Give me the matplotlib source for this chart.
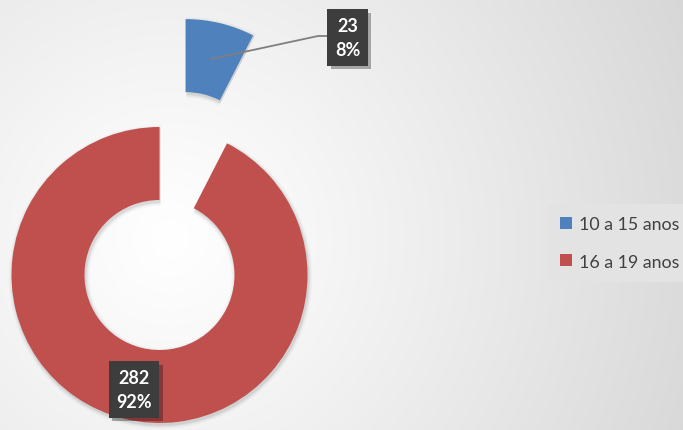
import numpy as np
import matplotlib
matplotlib.use('Agg')
import matplotlib.pyplot as plt
import matplotlib.patheffects as pe

# ---- data ----
categories = ['10 a 15 anos', '16 a 19 anos']
values = [23, 282]
colors = ['#4f81bd', '#c0504d']

W, H = 683, 431
fig = plt.figure(figsize=(W / 100, H / 100), dpi=100)
ax = fig.add_axes([0, 0, 1, 1])

# background radial gradient
yy, xx = np.mgrid[0:H, 0:W]
cx, cy = 170, 240
d = np.hypot(xx - cx, yy - cy)
g = 1.0 - 0.16 * np.clip(d / 580, 0, 1) ** 1.1
img = np.dstack([g, g, g])
ax.imshow(img, extent=(0, W, 0, H), origin='upper', zorder=0, aspect='auto')

total = sum(values)
center = (159.5, H - 276)
R = 148

# soft shadow
for k, a in zip([10, 7, 4, 2], [0.02, 0.03, 0.04, 0.05]):
    sw, _ = ax.pie(values, colors=['black', 'black'], startangle=90, counterclock=False,
                   radius=R + k * 0.4, center=(center[0] + 1, center[1] - 2), explode=[111, 0],
                   wedgeprops=dict(width=73 + k * 0.8, edgecolor='none', alpha=a))

wedges, _ = ax.pie(values, colors=colors, startangle=90, counterclock=False,
                   radius=R, center=center, explode=[111, 0],
                   wedgeprops=dict(width=73, edgecolor='none'))

ax.set_xlim(0, W)
ax.set_ylim(0, H)
ax.set_aspect('auto')
ax.axis('off')

# data labels
lbl_pos = [(347.5, H - 38.5), (134, H - 390.5)]
for v, (x, y) in zip(values, lbl_pos):
    s = f"{v}\n{v / total * 100:.0f}%"
    t = ax.text(x, y, s, ha='center', va='center', fontsize=13, fontweight='bold',
                family=['Lato', 'DejaVu Sans'], color='white', linespacing=1.55, zorder=5,
                bbox=dict(boxstyle='square,pad=0.42', fc='#3d3d3d', ec='none'))
    t.get_bbox_patch().set_path_effects([
        pe.SimplePatchShadow(offset=(2.5, -2.5), shadow_rgbFace='black', alpha=0.3),
        pe.Normal()])

# leader line
ax.plot([211, 318, 327], [H - 60, H - 37, H - 37], color='#7f7f7f', lw=1.3, zorder=3)

# legend
leg = ax.legend(wedges, categories, loc='center left',
                bbox_to_anchor=(548 / W, 1 - 244 / H), bbox_transform=ax.transAxes,
                frameon=True, fancybox=False, facecolor='#e3e3e3', edgecolor='none',
                framealpha=1, borderaxespad=0, borderpad=0.7,
                handlelength=0.65, handleheight=0.65, handletextpad=0.38,
                labelspacing=1.2,
                prop=dict(family=['Lato', 'DejaVu Sans'], size=12.8))
for t in leg.get_texts():
    t.set_color('#404040')

fig.savefig('out.png', dpi=100)
